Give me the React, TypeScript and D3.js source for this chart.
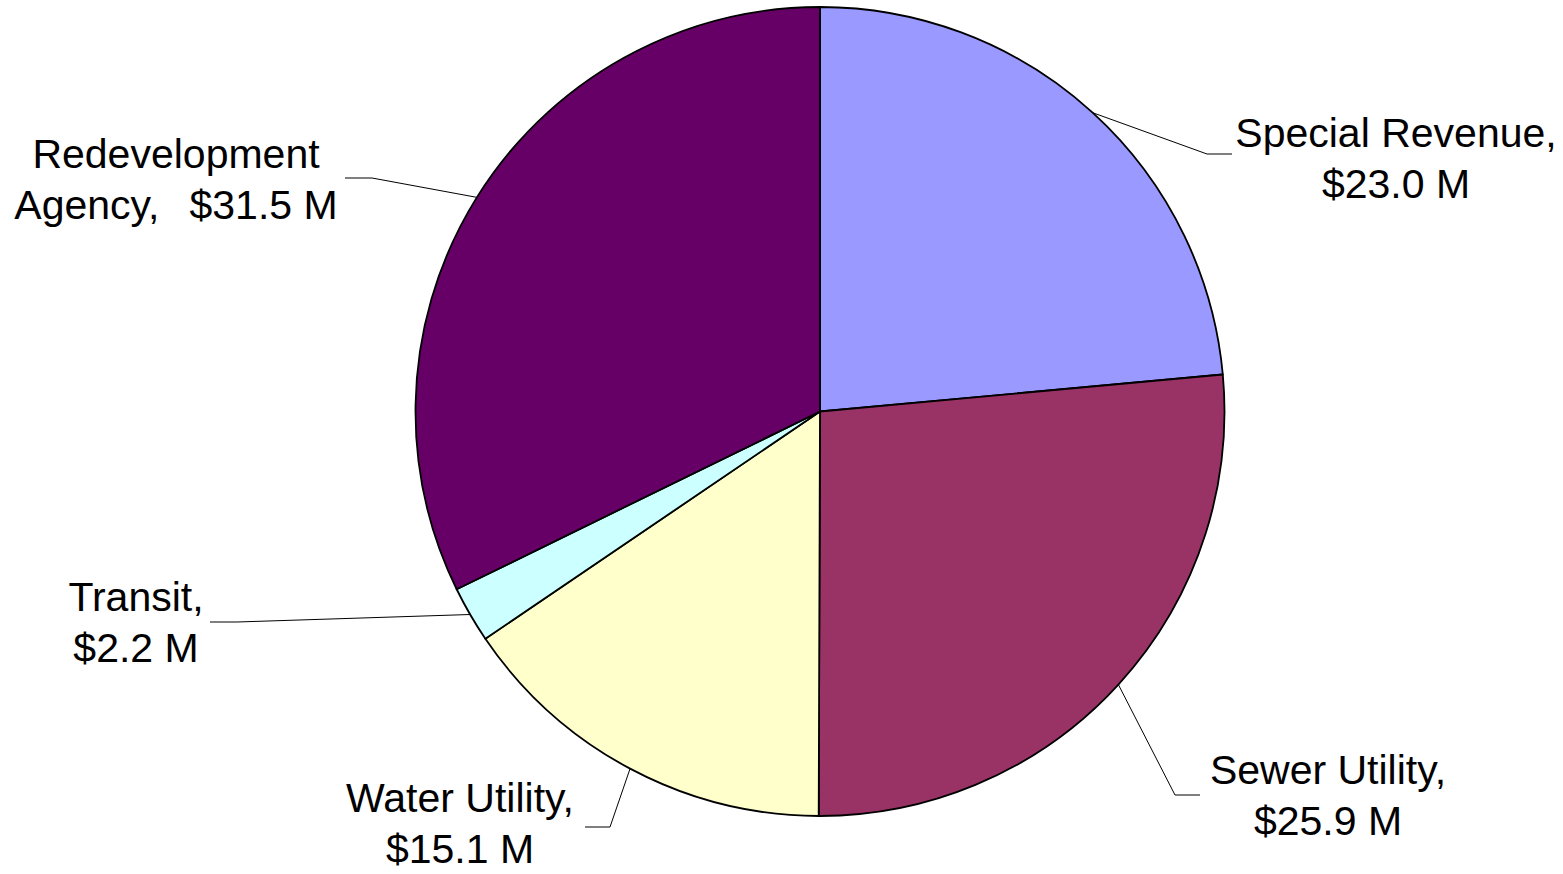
import React from "react";
import * as d3 from "d3";

const categories = ["Special Revenue", "Sewer Utility", "Water Utility", "Transit", "Redevelopment Agency"];
const values = [23.0, 25.9, 15.1, 2.2, 31.5];
const colors = ["#9999FF", "#993366", "#FFFFCC", "#CCFFFF", "#660066"];
const labelLines = [
  [["Special Revenue,"], ["$23.0 M"]],
  [["Sewer Utility,"], ["$25.9 M"]],
  [["Water Utility,"], ["$15.1 M"]],
  [["Transit,"], ["$2.2 M"]],
  [["Redevelopment"], ["Agency,", "$31.5 M"]],
];

// layout for labels: elbow point, end of horizontal segment, text center & first baseline
const labelLayout = [
  { ex: 1207, ey: 154, hx: 1232, tx: 1396, ty: 147 },
  { ex: 1175, ey: 795, hx: 1200, tx: 1328, ty: 784 },
  { ex: 610, ey: 827, hx: 585, tx: 460, ty: 812 },
  { ex: 237, ey: 622, hx: 210, tx: 136, ty: 611 },
  { ex: 372, ey: 178, hx: 345, tx: 176, ty: 168 },
];

const W = 1563;
const H = 874;
const cx = 820;
const cy = 411.5;
const R = 404.5;
const FONT = 41;
const LINE_H = 51;

export default function App() {
  const pie = d3.pie<number>().sort(null).value((d) => d)(values);
  const arc = d3.arc<d3.PieArcDatum<number>>().innerRadius(0).outerRadius(R);
  return (
    <svg
      width={W}
      height={H}
      style={{ position: "absolute", left: 0, top: 0, background: "#fff" }}
      fontFamily="'Liberation Sans', Arial, sans-serif"
    >
      <g transform={`translate(${cx},${cy})`}>
        {pie.map((p, i) => (
          <path key={categories[i]} d={arc(p) || ""} fill={colors[i]} stroke="#000" strokeWidth={1.8} strokeLinejoin="round" />
        ))}
      </g>
      {pie.map((p, i) => {
        const mid = (p.startAngle + p.endAngle) / 2;
        const sx = cx + R * Math.sin(mid);
        const sy = cy - R * Math.cos(mid);
        const L = labelLayout[i];
        return (
          <g key={"lab" + i}>
            <polyline
              points={`${sx},${sy} ${L.ex},${L.ey} ${L.hx},${L.ey}`}
              fill="none"
              stroke="#000"
              strokeWidth={1}
            />
            {labelLines[i].map((parts, j) => (
              <text
                key={j}
                x={L.tx}
                y={L.ty + j * LINE_H}
                textAnchor="middle"
                fontSize={FONT}
                fill="#000"
              >
                {parts.map((t, k) => (
                  <tspan key={k} dx={k > 0 ? 30 : 0}>{t}</tspan>
                ))}
              </text>
            ))}
          </g>
        );
      })}
    </svg>
  );
}
